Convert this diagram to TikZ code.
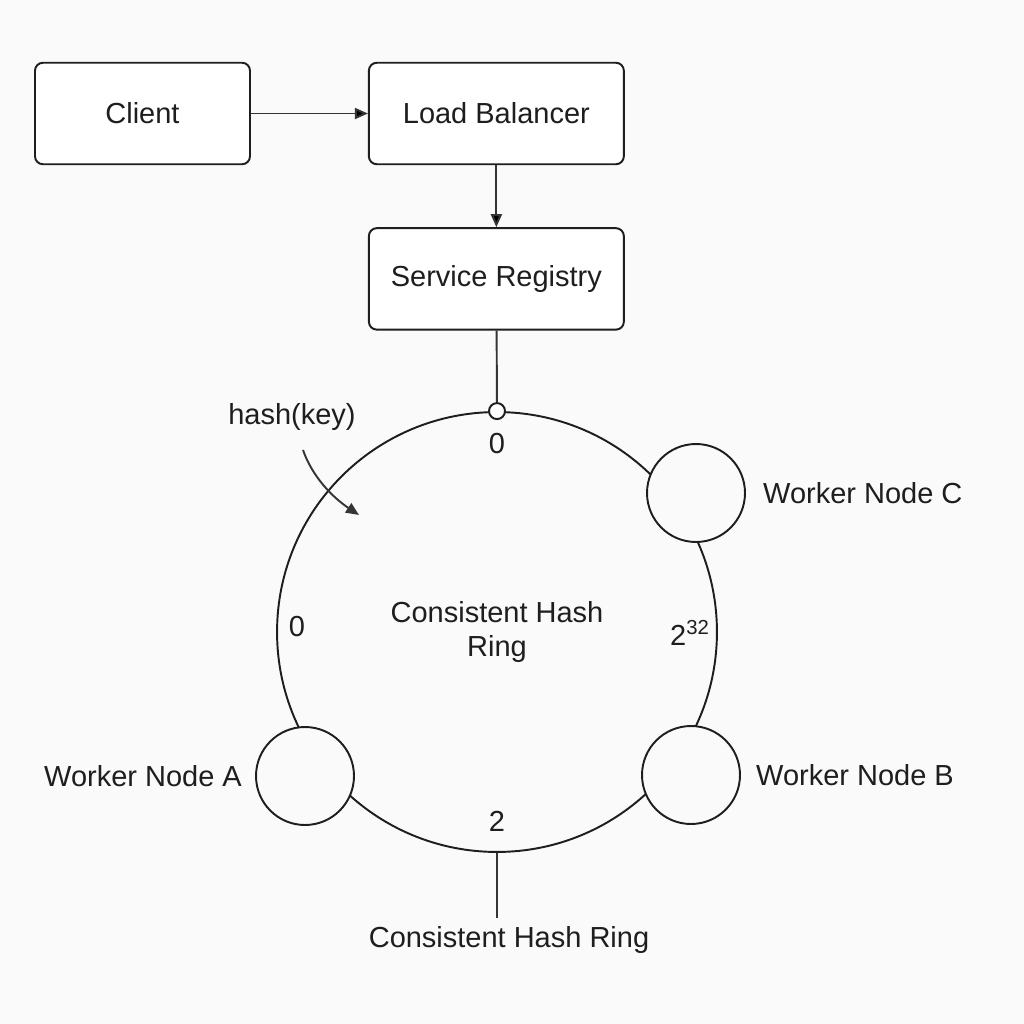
\documentclass[tikz,border=0pt]{standalone}
\usepackage{fontspec}
\setmainfont{Liberation Sans}
\usepackage{xcolor}
\usepackage{tikz}
\usetikzlibrary{positioning,arrows.meta}

\definecolor{paper}{HTML}{FAFAFA}
\definecolor{ink}{HTML}{1E1E1E}

\begin{document}
\begin{tikzpicture}
      [ x=0.02cm, y=-0.02cm,
        every node/.style={font=\fontsize{16.5}{19.5}\selectfont, text=ink},
        box/.style={draw=ink, line width=1.1pt, rounded corners=4.5pt,
                    minimum height=2.03cm, fill=white},
        worker/.style={circle, draw=ink, line width=1.1pt, fill=paper,
                       minimum size=1.96cm, inner sep=0pt},
        hashring/.style={circle, draw=ink, line width=1.1pt,
                         minimum size=8.8cm, inner sep=0pt, align=center},
        ringdot/.style={circle, draw=ink, line width=1.1pt, fill=white,
                        minimum size=0.32cm, inner sep=0pt},
        link/.style={draw=ink!90, line width=1.1pt},
        >={Triangle[length=0.26cm,width=0.22cm]}
      ]
      \useasboundingbox[fill=paper] (0,0) rectangle (1024,1024);

      % request path
      \node[box, minimum width=4.3cm] (client)   at (142.5,113.5)         {Client};
      \node[box, minimum width=5.1cm] (balancer) [right=2.34cm of client] {Load Balancer};
      \node[box, minimum width=5.1cm] (registry) [below=1.24cm of balancer] {Service Registry};

      % the ring
      \node[hashring]                 (ring)     at (497,632)             {Consistent Hash\\Ring};
      \node[ringdot]                  (top)      at (ring.north)          {};
      \node[worker]                   (workerC)  at (696,493)             {};
      \node[worker]                   (workerB)  at (691,775)             {};
      \node[worker]                   (workerA)  at (305,776)             {};
      \node                           (labelC)   [right=0.22cm of workerC] {Worker Node C};
      \node                           (labelB)   [right=0.18cm of workerB] {Worker Node B};
      \node                           (labelA)   [left=0.14cm of workerA] {Worker Node A};

      % positions on the ring
      \node                           (posTop)   at (497,444)             {0};
      \node                           (posLeft)  at (297,627)             {0};
      \node                           (posRight) at (690,633)             {2\textsuperscript{32}};
      \node                           (posBot)   at (497,821)             {2};

      \node                           (hashkey)  at (292,417)             {hash(key)};
      \coordinate                     (hstart)   at (303,450);
      \coordinate                     (hend)     at (359,515);
      \coordinate                     (tail)     at (497,918);
      \node                           (ringname) at (509,940)             {Consistent Hash Ring};

      \path[->, link] (client)   edge (balancer)
                      (balancer) edge (registry);
      \path[link]     (registry) edge (top)
                      (ring)     edge (tail);
      \draw[->, link] (hstart) .. controls (312,476) and (332,497) .. (hend);
\end{tikzpicture}
\end{document}
